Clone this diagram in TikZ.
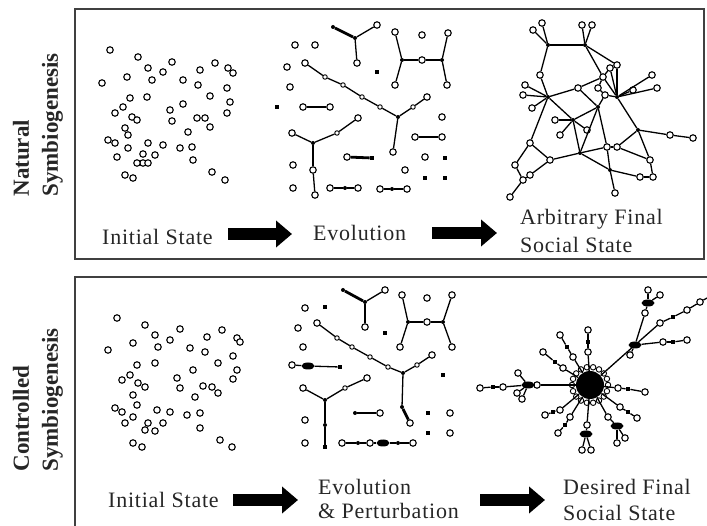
\documentclass[tikz,border=0pt]{standalone}
\usepackage{fontspec}
\setmainfont{Liberation Serif}
\usetikzlibrary{arrows.meta,shapes.geometric}

\tikzset{
  agent/.style={circle,draw,line width=1.1pt,fill=white,inner sep=0pt,minimum size=6.5pt},
  mini/.style={circle,draw,line width=0.9pt,fill=white,inner sep=0pt,minimum size=4.5pt},
  joint/.style={circle,fill,inner sep=0pt,minimum size=4pt},
  blip/.style={rectangle,fill,inner sep=0pt,minimum size=4.5pt},
  lump/.style={ellipse,fill,inner sep=0pt,minimum width=13pt,minimum height=7pt},
  link/.style={line width=1.3pt},
  heavy/.style={line width=2.8pt},
  frame/.style={draw=black!75,line width=1.8pt},
  statetext/.style={font=\fontsize{22}{28}\selectfont\addfontfeature{LetterSpace=3.5},text=black!85,inner sep=0pt,anchor=west,align=left},
  side/.style={font=\fontsize{23}{29}\selectfont\bfseries,text=black!85,rotate=90,align=left,inner sep=0pt},
  bigarrow/.style={line width=12pt,-{Triangle[length=16pt,width=26pt]}},
}

\begin{document}
\begin{tikzpicture}[x=1pt,y=-1pt]
  \useasboundingbox (0,0) rectangle (707,526);

  % frames
  \draw[frame] (75,9) rectangle (704,259);
  \draw[frame] (75,530) |- (710,277);

  % side titles
  \node[side] (natlab) at (38,125) {Natural\\Symbiogenesis};
  \node[side] (conlab) at (38,400) {Controlled\\Symbiogenesis};

  % captions
  \node[statetext] (init1) at (102,237) {Initial State};
  \node[statetext] (evo1) at (313,233) {Evolution};
  \node[statetext] (arb1) at (520,231) {Arbitrary Final\\Social State};
  \node[statetext] (init2) at (108,500) {Initial State};
  \node[statetext,font=\fontsize{22}{24}\selectfont\addfontfeature{LetterSpace=3.5}] (evo2) at (318,499) {Evolution\\\& Perturbation};
  \node[statetext,font=\fontsize{22}{26}\selectfont\addfontfeature{LetterSpace=3.5}] (des2) at (563,500) {Desired Final\\Social State};

  % block arrows
  \coordinate (ta1) at (228,234);  \coordinate (tb1) at (292,234);
  \coordinate (ta2) at (432,233);  \coordinate (tb2) at (497,233);
  \coordinate (ba1) at (233,500);  \coordinate (bb1) at (298,500);
  \coordinate (ba2) at (480,500);  \coordinate (bb2) at (545,500);
  \draw[bigarrow] (ta1) -- (tb1);
  \draw[bigarrow] (ta2) -- (tb2);
  \draw[bigarrow] (ba1) -- (bb1);
  \draw[bigarrow] (ba2) -- (bb2);

  % initial state, natural
  \foreach \x/\y [count=\i] in {110/50,138/57,148/68,172/62,163/72,152/80,127/77,102/83,215/63,200/70,
      228/68,233/73,183/80,198/85,227/88,210/96,230/102,227/113,130/98,147/97,123/107,115/113,132/117,
      137/120,183/104,170/110,172/121,197/118,205/118,210/127,188/132,125/128,128/135,108/140,115/143,
      128/148,117/157,148/143,163/145,180/148,192/147,155/155,143/154,143/163,137/163,148/163,193/160,
      125/175,133/178,212/172,225/180}
    \node[agent] (a\i) at (\x,\y) {};

  % initial state, controlled
  \foreach \x/\y [count=\i] in {117/318,145/325,155/335,158/347,170/340,180/329,133/343,108/350,207/337,
      222/330,237/338,240/342,190/348,205/352,233/356,218/363,237/370,233/379,193/370,155/363,137/365,
      130/375,122/380,138/383,145/387,177/378,180/388,203/386,212/387,218/393,195/397,133/395,137/405,
      115/408,122/412,133/417,125/423,157/410,170/412,187/415,200/413,163/423,148/423,145/430,155/431,
      200/428,133/443,142/447,220/440,232/447}
    \node[agent] (b\i) at (\x,\y) {};

  % evolution, natural
  \foreach \n/\x/\y/\s in {i1/295/45/agent,i2/315/45/agent,i3/287/67/agent,i4/290/87/agent,
      i5/422/35/agent,i6/442/117/agent,i7/425/157/agent,i8/405/170/agent,i9/293/165/agent,
      i10/293/188/agent,b1/277/107/blip,b2/377/72/blip,b3/445/158/blip,b4/425/178/blip,b5/445/178/blip,
      ya/355/38/joint,ya1/333/27/joint,ya2/377/25/agent,ya3/357/63/agent,
      ha/402/60/joint,hm/422/60/agent,hb/442/60/joint,h1/395/32/agent,h2/395/85/agent,h3/448/33/agent,h4/447/85/agent,
      da/305/63/agent,d1/325/77/mini,d2/343/85/mini,d3/362/97/mini,d4/380/107/mini,dc/398/117/joint,
      d5/413/107/mini,d6/427/97/agent,d7/393/152/agent,p1/303/107/agent,p2/330/107/agent,
      yc/313/143/joint,y1/292/133/agent,y2/337/133/mini,y3/358/118/agent,y4/313/170/agent,y5/315/195/agent,
      q1/347/157/agent,q2/372/158/blip,r1/415/137/agent,r2/442/137/agent,
      s1/330/188/agent,s2/345/188/joint,s3/358/188/agent,u1/380/189/agent,u2/392/189/joint,u3/407/189/agent}
    \node[\s] (e\n) at (\x,\y) {};
  \foreach \u/\v in {ya/ya2,ya/ya3,h1/ha,ha/h2,ha/hm,hm/hb,h3/hb,hb/h4,da/d1,d1/d2,d2/d3,d3/d4,d4/dc,
      dc/d5,d5/d6,dc/d7,y1/yc,yc/y2,y2/y3,y4/y5,r1/r2,s1/s2,s2/s3,u1/u2,u2/u3}
    \draw[link] (e\u) -- (e\v);
  \foreach \u/\v in {ya/ya1,p1/p2,yc/y4,q1/q2}
    \draw[heavy] (e\u) -- (e\v);

  % evolution and perturbation, controlled
  \foreach \n/\x/\y/\s in {i1/305/308/agent,i2/298/328/agent,i3/303/347/agent,i4/427/298/agent,
      i5/450/413/agent,i6/450/433/agent,i7/305/420/agent,i8/305/443/agent,
      b1/325/307/blip,b2/385/333/blip,b3/443/375/blip,b4/428/413/blip,b5/428/433/blip,
      ya/365/302/joint,ya1/343/290/joint,ya2/385/290/agent,ya3/365/327/agent,
      ha/408/322/joint,hm/427/322/agent,hb/443/322/joint,h1/402/295/agent,h2/400/347/agent,h3/452/295/agent,h4/452/347/agent,
      da/317/323/agent,d1/337/338/mini,d2/352/347/mini,d3/370/357/mini,d4/388/367/mini,dc/403/373/joint,
      d5/417/365/mini,d6/432/355/agent,d7/402/407/joint,d8/410/423/agent,
      p1/292/365/agent,pm/308/366/lump,p2/340/367/blip,
      yc/325/400/joint,y1/303/388/agent,y2/345/388/mini,y3/367/378/agent,y4/325/425/joint,y5/325/447/blip,
      q1/355/413/joint,q2/380/413/agent,
      c1/342/443/agent,c2/358/443/joint,c3/370/443/agent,c4/383/443/lump,c5/398/443/joint,c6/413/443/agent}
    \node[\s] (f\n) at (\x,\y) {};
  \foreach \u/\v in {ya/ya2,ya/ya3,h1/ha,ha/h2,ha/hm,hm/hb,h3/hb,hb/h4,da/d1,d1/d2,d2/d3,d3/d4,d4/dc,
      dc/d5,d5/d6,dc/d7,p1/pm,pm/p2,y1/yc,yc/y2,y2/y3,q1/q2,c1/c2,c2/c3,c3/c4,c4/c5,c5/c6}
    \draw[link] (f\u) -- (f\v);
  \foreach \u/\v in {ya/ya1,d7/d8,yc/y4,y4/y5}
    \draw[heavy] (f\u) -- (f\v);

  % arbitrary final state
  \foreach \n/\x/\y/\s in {a/548/45/joint,a1/533/30/agent,a2/542/23/agent,b/585/45/joint,b1/582/25/agent,
      b2/592/25/agent,e/617/65/agent,c/603/77/agent,c3/610/68/agent,c4/598/88/agent,c2/605/95/agent,
      d/617/97/joint,d1/652/75/agent,d2/657/88/agent,d3/633/90/agent,g/540/75/agent,f/548/97/joint,
      f1/525/85/agent,f2/523/95/agent,f3/532/108/agent,h/578/88/agent,i/598/107/joint,j/573/120/joint,
      j1/555/120/agent,j2/560/135/agent,j3/587/130/agent,k/530/143/agent,l/580/153/joint,m/550/160/agent,
      n/607/147/agent,p/617/147/agent,o/638/130/joint,o1/670/135/agent,o2/693/138/agent,r/650/160/agent,
      s/653/177/agent,s2/640/177/agent,q/610/170/joint,t/615/193/agent,u/515/165/agent,v/523/180/agent,
      w/510/197/agent,x/530/175/agent}
    \node[\s] (g\n) at (\x,\y) {};
  \foreach \u/\v in {a/a1,a/a2,a/b,b/b1,b/b2,b/e,b/c,e/c3,c3/c,e/d,c/c4,c4/c2,c2/d,c/d,d/d1,d/d2,d/d3,
      a/g,g/f,f/f1,f/f2,f/f3,f/h,h/c,f/j,j/j1,j/j2,j/j3,j/i,i/c2,i/l,j/l,f/k,k/u,k/m,u/v,v/w,v/x,x/m,
      m/l,l/n,n/p,i/n,d/o,o/o1,o1/o2,o/r,p/o,r/s,s/s2,s2/q,q/t,q/l,n/q,p/r,h/i,c3/d}
    \draw[link] (g\u) -- (g\v);

  % desired final state
  \node[circle,fill,inner sep=0pt,minimum size=28pt] (zhub) at (590,385) {};
  \foreach \k in {0,...,17}
    \node[mini,minimum size=5.5pt] (zr\k) at ({590+18*cos(\k*20)},{385+18*sin(\k*20)}) {};
  \foreach \n/\x/\y/\s in {n1/588/352/agent,n2/588/342/blip,n3/588/330/agent,
      m1/573/357/agent,m2/567/347/blip,m3/560/335/agent,w1/563/368/agent,w2/555/362/blip,w3/543/352/agent,
      l0/537/385/agent,l1/528/385/lump,l2/518/373/agent,l3/517/393/agent,l4/522/399/agent,
      l5/503/387/agent,l6/493/387/blip,l7/480/388/agent,
      e1/618/388/agent,e2/628/389/blip,e3/645/392/agent,s1/620/407/agent,s2/628/412/blip,s3/637/418/agent,
      t1/608/417/agent,t2/617/426/lump,t3/625/438/agent,t4/617/443/agent,
      d1/587/425/agent,d2/586/434/lump,d3/582/450/agent,d4/591/450/agent,
      v1/570/417/agent,v2/565/425/blip,v3/558/433/agent,x1/560/410/agent,x2/553/412/blip,x3/545/415/agent,
      k/635/345/lump,k0/630/355/agent,u1/645/313/agent,u2/648/303/lump,u3/648/290/agent,u4/660/295/agent,
      r1/663/342/agent,r2/673/342/blip,r3/687/340/agent,
      q1/660/323/agent,q2/673/317/blip,q3/687/310/agent,q4/700/302/agent}
    \node[\s] (z\n) at (\x,\y) {};
  \coordinate (zout) at (707,298);
  \foreach \u/\v in {hub/n1,n1/n2,n2/n3,hub/m1,m1/m2,m2/m3,hub/w1,w1/w2,w2/w3,hub/l0,l0/l1,l1/l2,l1/l3,
      l1/l4,l1/l5,l5/l6,l6/l7,hub/e1,e1/e2,e2/e3,hub/s1,s1/s2,s2/s3,hub/t1,t1/t2,t2/t3,t2/t4,
      hub/d1,d1/d2,d2/d3,d2/d4,hub/v1,v1/v2,v2/v3,hub/x1,x1/x2,x2/x3,hub/k,k/k0,k/u1,u1/u2,u2/u3,u2/u4,
      k/r1,r1/r2,r2/r3,k/q1,q1/q2,q2/q3,q3/q4,q4/out}
    \draw[link] (z\u) -- (z\v);
\end{tikzpicture}
\end{document}
